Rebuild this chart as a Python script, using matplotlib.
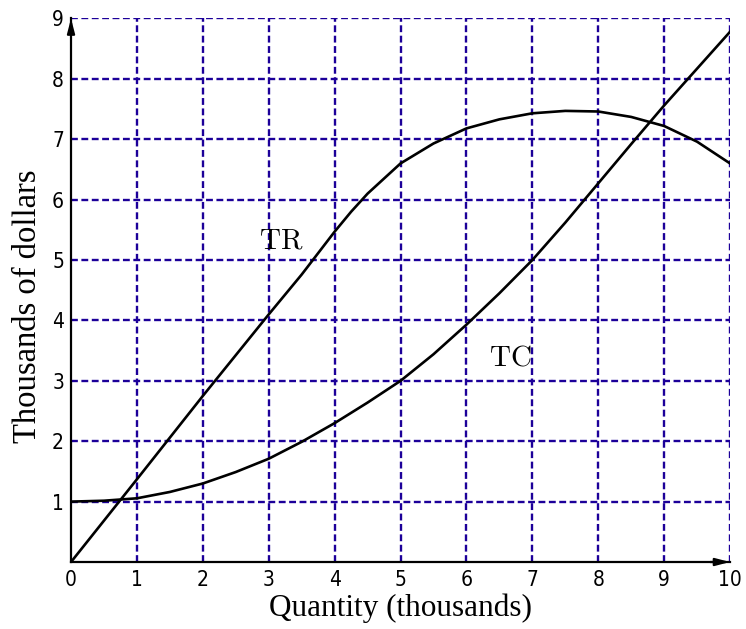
import matplotlib
matplotlib.use("Agg")
import matplotlib.pyplot as plt

# Data
q_tr = [0, 1, 2, 3, 3.5, 4, 4.25, 4.5, 5, 5.5, 6, 6.5, 7, 7.5, 8, 8.5, 9, 9.5, 10]
tr = [0, 1.37, 2.75, 4.1, 4.76, 5.47, 5.8, 6.1, 6.6, 6.93, 7.18, 7.33, 7.43, 7.47, 7.46, 7.37, 7.22, 6.96, 6.6]
q_tc = [0, 0.5, 1, 1.5, 2, 2.5, 3, 3.5, 4, 4.5, 5, 5.5, 6, 6.5, 7, 7.5, 8, 8.5, 9, 9.5, 10]
tc = [1.0, 1.015, 1.055, 1.16, 1.30, 1.49, 1.71, 1.99, 2.3, 2.64, 3.0, 3.44, 3.93, 4.45, 5.0,
      5.62, 6.27, 6.92, 7.56, 8.17, 8.78]
xticks = list(range(0, 11))
yticks = list(range(1, 10))

plt.rcParams['mathtext.fontset'] = 'cm'

fig = plt.figure(figsize=(7.46, 6.29), dpi=100)
ax = fig.add_axes([0.0952, 0.1065, 0.8834, 0.8641])

grid_color = '#1c0099'
for x in xticks[1:]:
    ax.axvline(x, color=grid_color, ls=(0, (2.9, 1.5)), lw=1.7, zorder=1)
for y in yticks:
    ax.axhline(y, color=grid_color, ls=(0, (2.9, 1.5)), lw=1.7, zorder=1)

ax.plot(q_tr, tr, color='black', lw=1.9, zorder=3)
ax.plot(q_tc, tc, color='black', lw=1.9, zorder=3)

ax.text(2.85, 5.32, r'$\mathrm{TR}$', fontsize=21, va='center', ha='left')
ax.text(6.35, 3.39, r'$\mathrm{TC}$', fontsize=21, va='center', ha='left')

ax.set_xlim(0, 10)
ax.set_ylim(0, 9)
ax.set_xticks(xticks)
ax.set_yticks(yticks)
ax.tick_params(length=0, labelsize=15)
ax.tick_params(axis='x', pad=6)
ax.tick_params(axis='y', pad=5)
for lab in ax.get_xticklabels() + ax.get_yticklabels():
    lab.set_fontstretch('condensed')
for s in ['top', 'right']:
    ax.spines[s].set_visible(False)
for s in ['left', 'bottom']:
    ax.spines[s].set_linewidth(1.6)

# arrow heads at axis ends
ax.annotate('', xy=(0, 1), xytext=(0, 0.97), xycoords='axes fraction',
            arrowprops=dict(arrowstyle='-|>,head_length=0.85,head_width=0.22',
                            color='black', lw=1.6, shrinkA=0, shrinkB=0))
ax.annotate('', xy=(1, 0), xytext=(0.97, 0), xycoords='axes fraction',
            arrowprops=dict(arrowstyle='-|>,head_length=0.85,head_width=0.22',
                            color='black', lw=1.6, shrinkA=0, shrinkB=0))

ax.set_xlabel('Quantity (thousands)', fontfamily='Liberation Serif', fontsize=22.5, labelpad=2)
ax.set_ylabel('Thousands of dollars', fontfamily='Liberation Serif', fontsize=23.5)
ax.yaxis.set_label_coords(-0.043, 0.47)

fig.savefig('out.png', dpi=100)
